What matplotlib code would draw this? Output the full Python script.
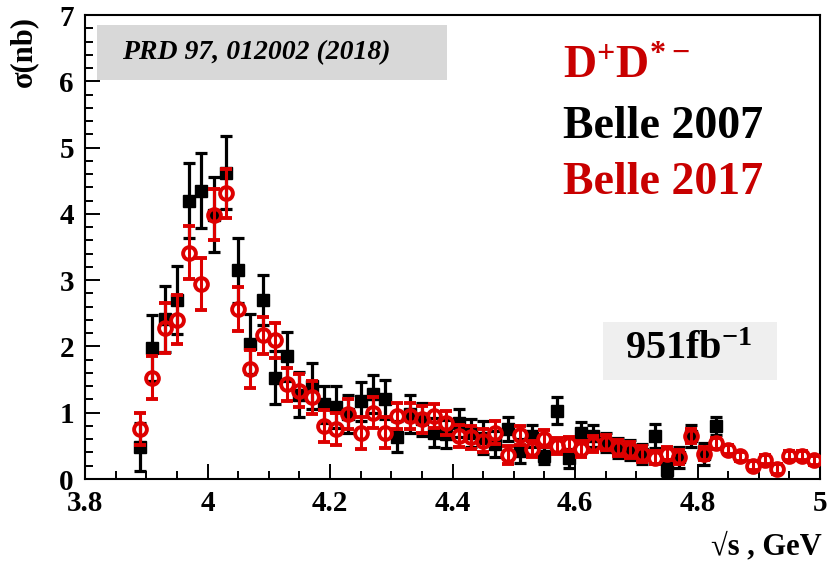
import matplotlib
matplotlib.use('Agg')
import matplotlib.pyplot as plt
from matplotlib.patches import Rectangle
from matplotlib.ticker import MultipleLocator

# sqrt(s) bins, GeV
energy_2017 = [3.89, 3.91, 3.93, 3.95, 3.97, 3.99, 4.01, 4.03, 4.05, 4.07,
               4.09, 4.11, 4.13, 4.15, 4.17, 4.19, 4.21, 4.23, 4.25, 4.27,
               4.29, 4.31, 4.33, 4.35, 4.37, 4.39, 4.41, 4.43, 4.45, 4.47,
               4.49, 4.51, 4.53, 4.55, 4.57, 4.59, 4.61, 4.63, 4.65, 4.67,
               4.69, 4.71, 4.73, 4.75, 4.77, 4.79, 4.81, 4.83, 4.85, 4.87,
               4.89, 4.91, 4.93, 4.95, 4.97, 4.99]
energy_2007 = energy_2017[:48]

# Belle 2007, sigma (nb) and error
sigma_2007 = [0.48, 1.98, 2.41, 2.70, 4.20, 4.35, 3.99, 4.62, 3.15, 2.04,
              2.70, 1.53, 1.85, 1.27, 1.40, 1.13, 1.09, 0.98, 1.17, 1.28,
              1.20, 0.64, 0.98, 0.90, 0.70, 0.68, 0.85, 0.70, 0.62, 0.53,
              0.75, 0.42, 0.65, 0.35, 1.03, 0.31, 0.70, 0.65, 0.55, 0.47,
              0.44, 0.38, 0.65, 0.13, 0.33, 0.65, 0.38, 0.80]
err_2007 = [0.36, 0.50, 0.50, 0.52, 0.57, 0.57, 0.56, 0.55, 0.49, 0.45,
            0.38, 0.40, 0.37, 0.34, 0.35, 0.28, 0.32, 0.28, 0.30, 0.29,
            0.29, 0.24, 0.28, 0.25, 0.22, 0.21, 0.21, 0.21, 0.25, 0.20,
            0.18, 0.18, 0.17, 0.13, 0.20, 0.14, 0.16, 0.16, 0.15, 0.15,
            0.15, 0.15, 0.18, 0.12, 0.16, 0.17, 0.17, 0.14]

# Belle 2017
sigma_2017 = [0.75, 1.53, 2.28, 2.40, 3.41, 2.94, 3.99, 4.31, 2.56, 1.66,
              2.17, 2.09, 1.43, 1.33, 1.23, 0.80, 0.75, 0.98, 0.69, 1.00,
              0.70, 0.95, 0.95, 0.90, 0.95, 0.85, 0.65, 0.63, 0.58, 0.70,
              0.36, 0.66, 0.45, 0.61, 0.50, 0.53, 0.45, 0.53, 0.55, 0.47,
              0.44, 0.38, 0.32, 0.38, 0.33, 0.65, 0.38, 0.54, 0.44, 0.34,
              0.20, 0.29, 0.15, 0.35, 0.35, 0.28]
err_2017 = [0.24, 0.33, 0.38, 0.37, 0.40, 0.39, 0.38, 0.37, 0.33, 0.28,
            0.28, 0.27, 0.25, 0.25, 0.25, 0.24, 0.24, 0.23, 0.24, 0.23,
            0.23, 0.20, 0.20, 0.20, 0.18, 0.18, 0.17, 0.17, 0.17, 0.17,
            0.14, 0.14, 0.12, 0.13, 0.12, 0.11, 0.12, 0.12, 0.12, 0.12,
            0.12, 0.12, 0.10, 0.10, 0.10, 0.10, 0.10, 0.08, 0.07, 0.07,
            0.07, 0.07, 0.07, 0.07, 0.07, 0.07]

RED = '#dd0000'
TXT_RED = '#c80000'
SERIF = ['Liberation Serif', 'DejaVu Serif']

plt.rcParams['font.family'] = SERIF
plt.rcParams['mathtext.fontset'] = 'custom'
plt.rcParams['mathtext.bf'] = 'Liberation Serif:bold'
plt.rcParams['mathtext.rm'] = 'Liberation Serif:bold'

W, H = 827, 562
fig = plt.figure(figsize=(W / 100, H / 100), dpi=100)
ax = fig.add_axes([85 / W, 1 - 479 / H, (820 - 85) / W, (479 - 15) / H])


def fx(px):
    return px / W


def fy(py):
    return 1 - py / H


ax.errorbar(energy_2007, sigma_2007, yerr=err_2007, fmt='s', color='black',
            ms=8.2, elinewidth=2.3, capsize=4.4, capthick=2.3, zorder=3)
ax.errorbar(energy_2017, sigma_2017, yerr=err_2017, fmt='o', color=RED,
            mfc='none', mec=RED, ms=9.2, mew=2.8, elinewidth=2.2,
            capsize=4.2, capthick=2.2, zorder=4)

ax.set_xlim(3.8, 5.0)
ax.set_ylim(0, 7)
ax.xaxis.set_major_locator(MultipleLocator(0.2))
ax.xaxis.set_minor_locator(MultipleLocator(0.05))
ax.yaxis.set_major_locator(MultipleLocator(1))
ax.yaxis.set_minor_locator(MultipleLocator(0.2))
ax.xaxis.set_major_formatter(plt.FuncFormatter(lambda v, p: f'{v:g}'))
ax.yaxis.set_major_formatter(plt.FuncFormatter(lambda v, p: f'{v:g}'))
ax.tick_params(which='both', direction='in', width=1.4, top=False, right=False)
ax.tick_params(which='major', length=11, labelsize=21, pad=8,
               labelfontfamily='Liberation Serif')
ax.tick_params(which='minor', length=5.5)
for lab in ax.get_xticklabels() + ax.get_yticklabels():
    lab.set_fontweight('bold')
    lab.set_family('Liberation Serif')
for sp in ax.spines.values():
    sp.set_linewidth(1.5)

# y / x axis titles
fig.text(fx(24), fy(16), 'σ(nb)', rotation=90, ha='center', va='top',
         fontsize=22, fontweight='bold', family=SERIF)
fig.text(fx(822), fy(554), '√s , GeV', ha='right', va='baseline',
         fontsize=22, fontweight='bold', family=SERIF)

# reference box
fig.add_artist(Rectangle((fx(97), fy(80)), (447 - 97) / W, 55 / H,
                         transform=fig.transFigure, facecolor='#d8d8d8',
                         edgecolor='none', zorder=5))
fig.text(fx(256), fy(53), 'PRD 97, 012002 (2018)', ha='center', va='center',
         fontsize=20, fontweight='bold', style='italic', family=SERIF, zorder=6)

# labels on the right
fig.text(fx(563), fy(78), r'$\mathbf{D^{+}D^{*-}}$', ha='left', va='baseline',
         fontsize=33, color=TXT_RED, zorder=6)
fig.text(fx(563), fy(138), 'Belle 2007', ha='left', va='baseline',
         fontsize=33, fontweight='bold', color='black', family=SERIF, zorder=6)
fig.text(fx(563), fy(194), 'Belle 2017', ha='left', va='baseline',
         fontsize=33, fontweight='bold', color=TXT_RED, family=SERIF, zorder=6)

# luminosity box
fig.add_artist(Rectangle((fx(603), fy(380)), (777 - 603) / W, 58 / H,
                         transform=fig.transFigure, facecolor='#efefef',
                         edgecolor='none', zorder=5))
fig.text(fx(625), fy(359), r'$\mathbf{951fb^{-1}}$', ha='left', va='baseline',
         fontsize=29, color='black', zorder=6)

fig.savefig('out.png', dpi=100)
